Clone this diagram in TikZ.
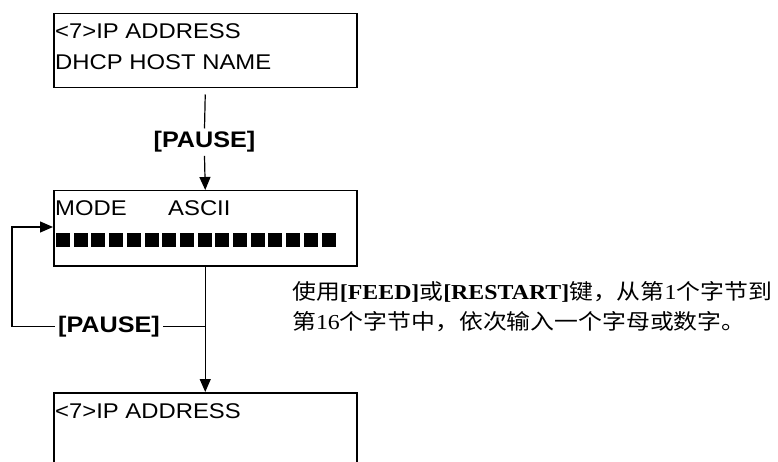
\documentclass[tikz,border=0pt]{standalone}
\usepackage{fontspec}
\usetikzlibrary{arrows.meta}
\newfontfamily\lcdfont{Liberation Sans}[FakeStretch=1.12]
\newfontfamily\tmsfont{Liberation Serif}[FakeStretch=1.12]
\newfontfamily\cjkfont{Noto Sans CJK SC}[FakeStretch=1.12]
\begin{document}
\begin{tikzpicture}[x=1pt,y=-1pt,
  lcdbox/.style={draw, line width=1.5pt, inner sep=0pt, anchor=north west, minimum width=303pt},
  lcdtext/.style={inner sep=0pt, anchor=base west, font=\lcdfont\fontsize{21.3}{25}\selectfont},
  keylabel/.style={inner xsep=3pt, inner ysep=3pt, anchor=base, font=\lcdfont\bfseries\fontsize{22.5}{26}\selectfont},
  conn/.style={line width=1.2pt},
  arr/.style={conn, -{Triangle[length=13pt,width=11pt]}},
  note/.style={inner sep=0pt, anchor=base west, font=\fontsize{21.3}{25}\selectfont},
  cell/.style={fill=black}]
\useasboundingbox (0,0) rectangle (778,462);
\clip (0,0) rectangle (778,462);

% boxes
\node[lcdbox, minimum height=74pt] (b1) at (53,13) {};
\node[lcdbox, minimum height=75pt] (b2) at (53,190) {};
\node[lcdbox, minimum height=110pt] (b3) at (53,392) {};

% box texts
\node[lcdtext] (t1a) at (55,39) {<7>IP ADDRESS};
\node[lcdtext] (t1b) at (55,70) {DHCP HOST NAME};
\node[lcdtext] (t2a) at (55,216) {\makebox[113pt][l]{MODE}ASCII};
\foreach \i in {0,...,15} \path[cell] (56+\i*17.7,233) rectangle ++(14,14);
\node[lcdtext] (t3a) at (55,418) {<7>IP ADDRESS};

% first PAUSE
\node[keylabel] (p1) at (204.5,148) {[PAUSE]};
\draw[conn] ([yshift=-6pt]b1.south) -- (p1.north);
\draw[arr] (p1.south) -- (b2.north);

% loop PAUSE
\node[keylabel] (p2) at (109,332) {[PAUSE]};
\coordinate (j) at (b2.south |- p2);
\coordinate (lc) at (12,227);
\draw[arr] (b2.south) -- (b3.north);
\draw[conn] (j) -- (p2.east);
\draw[arr] (p2.west) -| (lc) -- (b2.west |- lc);

% note
\node[note] (c1) at (292,299) {{\cjkfont 使用}{\tmsfont\bfseries [FEED]}{\cjkfont 或}{\tmsfont\bfseries [RESTART]}{\cjkfont 键，从第}{\tmsfont 1}{\cjkfont 个字节到}};
\node[note] (c2) at (292,329) {{\cjkfont 第}{\tmsfont 16}{\cjkfont 个字节中，依次输入一个字母或数字。}};
\end{tikzpicture}
\end{document}
